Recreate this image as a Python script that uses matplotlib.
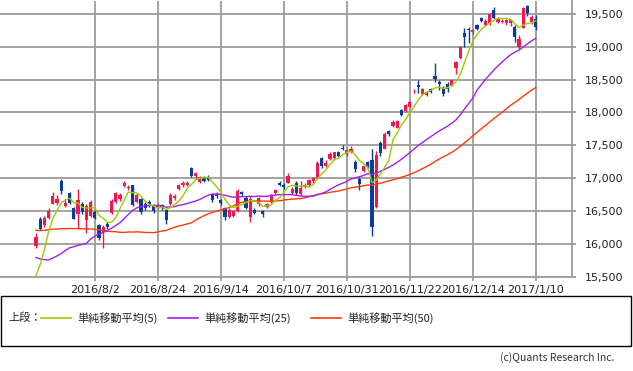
import matplotlib
matplotlib.use("Agg")
import matplotlib.pyplot as plt
import numpy as np
import pandas as pd
from matplotlib.patches import Rectangle
from matplotlib.lines import Line2D

plt.rcParams['font.family'] = ['Noto Sans CJK JP', 'DejaVu Sans']

# ---------------- data ----------------
dates = [
    "2016/7/12", "2016/7/13", "2016/7/14", "2016/7/15", "2016/7/19", "2016/7/20", "2016/7/21",
    "2016/7/22", "2016/7/25", "2016/7/26", "2016/7/27", "2016/7/28", "2016/7/29",
    "2016/8/1", "2016/8/2", "2016/8/3", "2016/8/4", "2016/8/5", "2016/8/8", "2016/8/9",
    "2016/8/10", "2016/8/12", "2016/8/15", "2016/8/16", "2016/8/17", "2016/8/18", "2016/8/19",
    "2016/8/22", "2016/8/23", "2016/8/24", "2016/8/25", "2016/8/26", "2016/8/29", "2016/8/30",
    "2016/8/31",
    "2016/9/1", "2016/9/2", "2016/9/5", "2016/9/6", "2016/9/7", "2016/9/8", "2016/9/9",
    "2016/9/12", "2016/9/13", "2016/9/14", "2016/9/15", "2016/9/16", "2016/9/20", "2016/9/21",
    "2016/9/23", "2016/9/26", "2016/9/27", "2016/9/28", "2016/9/29", "2016/9/30",
    "2016/10/3", "2016/10/4", "2016/10/5", "2016/10/6", "2016/10/7", "2016/10/11", "2016/10/12",
    "2016/10/13", "2016/10/14", "2016/10/17", "2016/10/18", "2016/10/19", "2016/10/20",
    "2016/10/21", "2016/10/24", "2016/10/25", "2016/10/26", "2016/10/27", "2016/10/28",
    "2016/10/31",
    "2016/11/1", "2016/11/2", "2016/11/4", "2016/11/7", "2016/11/8", "2016/11/9", "2016/11/10",
    "2016/11/11", "2016/11/14", "2016/11/15", "2016/11/16", "2016/11/17", "2016/11/18",
    "2016/11/21", "2016/11/22", "2016/11/24", "2016/11/25", "2016/11/28", "2016/11/29",
    "2016/11/30",
    "2016/12/1", "2016/12/2", "2016/12/5", "2016/12/6", "2016/12/7", "2016/12/8", "2016/12/9",
    "2016/12/12", "2016/12/13", "2016/12/14", "2016/12/15", "2016/12/16", "2016/12/19",
    "2016/12/20", "2016/12/21", "2016/12/22", "2016/12/26", "2016/12/27", "2016/12/28",
    "2016/12/29", "2016/12/30",
    "2017/1/4", "2017/1/5", "2017/1/6", "2017/1/10",
]

opens = [
    15960, 16370, 16290, 16390, 16610, 16620, 16950, 16580, 16770, 16540, 16450, 16610, 16360,
    16420, 16490, 16280, 16180, 16300, 16470, 16640, 16680, 16880, 16850, 16890, 16640, 16680,
    16610, 16640, 16580, 16550, 16590, 16510, 16610, 16690, 16840,
    16890, 16895, 17150, 17030, 16940, 17010, 17000, 16760, 16760, 16660, 16540, 16405, 16420,
    16500, 16790, 16700, 16400, 16520, 16600, 16500,
    16560, 16640, 16770, 16925, 16890, 16930, 16780, 16930, 16760, 16870, 16890, 16950, 17000,
    17300, 17180, 17290, 17300, 17390, 17465, 17360,
    17390, 17250, 16990, 17110, 17245, 17270, 16560, 17530, 17450, 17720, 17800, 17770, 18040,
    18025, 18085, 18320, 18420, 18280, 18270, 18360,
    18560, 18470, 18380, 18440, 18420, 18670, 18825, 19205, 19270, 19220, 19330, 19440, 19330,
    19360, 19560, 19380, 19380, 19360, 19370, 19300, 18990,
    19290, 19615, 19385, 19430,
]

highs = [
    16160, 16410, 16420, 16540, 16790, 16740, 16980, 16680, 16790, 16560, 16830, 16640, 16600,
    16660, 16520, 16300, 16290, 16330, 16680, 16790, 16770, 16950, 16900, 16900, 16780, 16700,
    16640, 16660, 16600, 16620, 16610, 16530, 16770, 16760, 16910,
    16950, 16960, 17170, 17100, 17030, 17030, 17040, 16780, 16790, 16680, 16560, 16540, 16510,
    16830, 16800, 16720, 16720, 16540, 16710, 16520,
    16620, 16750, 16840, 16960, 16920, 17070, 16870, 16950, 16950, 16930, 16980, 17020, 17260,
    17320, 17280, 17400, 17400, 17410, 17500, 17440,
    17490, 17270, 17010, 17190, 17260, 17440, 17420, 17560, 17700, 17730, 17890, 17890, 18060,
    18130, 18180, 18360, 18490, 18370, 18330, 18380,
    18750, 18500, 18400, 18470, 18500, 18780, 19010, 19280, 19300, 19270, 19350, 19460, 19420,
    19520, 19600, 19450, 19420, 19430, 19430, 19330, 19180,
    19600, 19630, 19480, 19480,
]

lows = [
    15940, 16210, 16260, 16370, 16600, 16590, 16760, 16560, 16600, 16370, 16220, 16450, 16170,
    16400, 16370, 16050, 15930, 16220, 16460, 16620, 16650, 16860, 16820, 16580, 16620, 16460,
    16520, 16560, 16470, 16530, 16520, 16300, 16590, 16670, 16820,
    16870, 16880, 17010, 17000, 16920, 16940, 16950, 16640, 16700, 16590, 16360, 16390, 16400,
    16480, 16730, 16530, 16330, 16450, 16580, 16400,
    16540, 16620, 16750, 16880, 16830, 16920, 16760, 16740, 16740, 16850, 16870, 16930, 16990,
    17160, 17170, 17280, 17280, 17320, 17430, 17340,
    17380, 17100, 16820, 17100, 17160, 16110, 16540, 17340, 17440, 17640, 17780, 17760, 17950,
    18010, 18070, 18300, 18300, 18260, 18250, 18300,
    18460, 18340, 18250, 18310, 18400, 18580, 18810, 19000, 19060, 19200, 19250, 19380, 19310,
    19340, 19420, 19360, 19360, 19340, 19320, 19080, 18960,
    19280, 19470, 19350, 19250,
]

closes = [
    16095, 16231, 16386, 16497, 16723, 16682, 16810, 16627, 16620, 16383, 16665, 16477, 16569,
    16636, 16391, 16083, 16255, 16254, 16651, 16765, 16735, 16920, 16870, 16597, 16746, 16486,
    16546, 16598, 16497, 16597, 16556, 16361, 16737, 16725, 16887,
    16927, 16926, 17038, 17082, 17012, 16959, 16966, 16673, 16729, 16614, 16405, 16519, 16492,
    16808, 16754, 16545, 16684, 16465, 16694, 16450,
    16599, 16736, 16819, 16899, 16860, 17025, 16840, 16774, 16856, 16900, 16964, 16999, 17235,
    17185, 17234, 17365, 17392, 17336, 17446, 17425,
    17442, 17135, 16905, 17177, 17171, 16251, 17344, 17375, 17673, 17668, 17862, 17863, 17967,
    18106, 18163, 18333, 18381, 18357, 18307, 18308,
    18513, 18426, 18275, 18361, 18497, 18765, 18996, 19155, 19251, 19254, 19274, 19401, 19392,
    19495, 19444, 19428, 19397, 19403, 19402, 19145, 19114,
    19594, 19521, 19454, 19301,
]

# closes of the 49 sessions before the window (2016/4/28 - 2016/7/11), used for the averages
prior_closes = [
    16666, 16147, 16107, 16216, 16565, 16579, 16646, 16412, 16466, 16653, 16645, 16647, 16736,
    16655, 16499, 16757, 16772, 16835, 16932, 17235,
    16956, 16563, 16642, 16580, 16675, 16831, 16668, 16601, 16019, 15859, 15920, 15434, 15600,
    15965, 16169, 16066, 16238, 14952, 15309, 15323, 15567, 15576,
    15682, 15776, 15669, 15379, 15276, 15107, 15709,
]

tick_dates = ["2016/8/2", "2016/8/24", "2016/9/14", "2016/10/7", "2016/10/31",
              "2016/11/22", "2016/12/14", "2017/1/10"]
y_ticks = [15500, 16000, 16500, 17000, 17500, 18000, 18500, 19000, 19500]
ma_periods = [5, 25, 50]
ma_labels = ["単純移動平均(5)", "単純移動平均(25)", "単純移動平均(50)"]
legend_title = "上段："
copyright_text = "(c)Quants Research Inc."

# ---------------- styles ----------------
W, H = 633, 371
UP = "#f2184f"
DOWN = "#0d3a9c"
MA_COLORS = ["#9ccc00", "#a020f0", "#ff3a0a"]
GRID = "#9c9c9c"
TICK_FONT = "DejaVu Sans"

fig = plt.figure(figsize=(W / 100, H / 100), dpi=100)
ax = fig.add_axes([0.0, 1 - 276.5 / H, 572 / W, 276 / H])

n = len(closes)
x = np.arange(n)
o = np.array(opens, float)
h = np.array(highs, float)
l = np.array(lows, float)
c = np.array(closes, float)
up = c >= o
cols = np.where(up, UP, DOWN)

ax.vlines(x, l, h, colors=cols, lw=1.0, zorder=3)
body_bottom = np.minimum(o, c)
body_h = np.maximum(np.abs(c - o), 10)
ax.bar(x, body_h, bottom=body_bottom, width=0.72, color=cols, linewidth=0, zorder=4)

all_closes = pd.Series(prior_closes + closes, dtype=float)
npre = len(prior_closes)
for p, col in zip(ma_periods[::-1], MA_COLORS[::-1]):
    ma = all_closes.rolling(p).mean().to_numpy()[npre:]
    ax.plot(x, ma, color=col, lw=1.0, zorder=5)

ax.set_xlim(-8.57, 127.62)
ax.set_ylim(15500, 19706)

ax.set_yticks(y_ticks)
ax.set_yticklabels([f"{v:,}" for v in y_ticks], family=TICK_FONT)
tick_pos = [dates.index(d) for d in tick_dates]
ax.set_xticks(tick_pos)
ax.set_xticklabels(tick_dates, family=TICK_FONT)

ax.set_axisbelow(True)
ax.grid(True, color=GRID, lw=1.3)
ax.tick_params(axis='y', left=False, right=True, labelleft=False, labelright=True,
               length=3, width=1.3, color=GRID, pad=6, labelsize=8, labelcolor="#222222")
ax.tick_params(axis='x', length=3, width=1.3, color=GRID, pad=3, labelsize=8,
               labelcolor="#222222")
for s in ["left", "top"]:
    ax.spines[s].set_visible(False)
for s in ["right", "bottom"]:
    ax.spines[s].set_color(GRID)
    ax.spines[s].set_linewidth(1.3)

# ---------------- legend box ----------------
def fx(px):
    return px / W

def fy(py):
    return 1 - py / H

fig.add_artist(Rectangle((fx(1), fy(346)), fx(630), 50 / H, transform=fig.transFigure,
                         fill=False, ec="black", lw=1.0))
ly = fy(318)
fig.text(fx(8), ly, legend_title, fontsize=8, va="center", ha="left", color="#222222")
line_x = [(41, 71), (168, 198), (311, 341)]
text_x = [77, 204, 347]
for (a, b), tx, col, lab in zip(line_x, text_x, MA_COLORS, ma_labels):
    fig.add_artist(Line2D([fx(a), fx(b)], [ly, ly], transform=fig.transFigure, color=col, lw=1.2))
    fig.text(fx(tx), ly, lab, fontsize=8, va="center", ha="left", color="#222222")

fig.text(fx(614), fy(358), copyright_text, fontsize=7.5, va="center", ha="right", color="#333333")

fig.savefig("out.png", dpi=100)
